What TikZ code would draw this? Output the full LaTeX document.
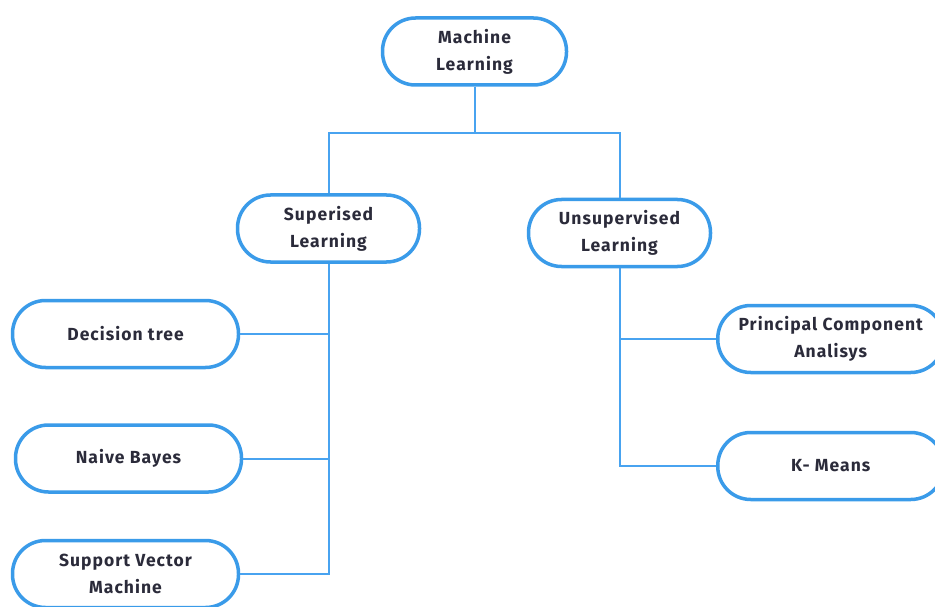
\documentclass[tikz,border=0pt]{standalone}
\usepackage{fontspec}
\setmainfont{Fira Sans}[LetterSpace=6]
\definecolor{boxblue}{RGB}{58,155,233}
\definecolor{lineblue}{RGB}{72,163,240}
\definecolor{txt}{RGB}{43,43,58}
\begin{document}
\begin{tikzpicture}[x=1pt,y=-1pt,
  pill/.style={draw=boxblue, line width=3.5pt, fill=white, rounded corners=33pt,
    minimum height=67pt, align=center, text=txt, inner sep=0pt,
    font=\fontsize{17.5}{27}\selectfont\bfseries},
  conn/.style={draw=lineblue, line width=2pt}]
\useasboundingbox (0,0) rectangle (935,607);
\clip (0,0) rectangle (935,607);
\coordinate (j) at (474.5,133);
\node[pill, minimum width=184pt] (ml) at (474.5,51.5) {Machine\\Learning};
\node[pill, minimum width=182pt] (sup) at (328.5,228.5) {Superised\\Learning};
\node[pill, minimum width=182pt] (uns) at (619.5,233) {Unsupervised\\Learning};
\node[pill, minimum width=226pt] (dt) at (125.5,334) {Decision tree};
\node[pill, minimum width=226pt] (nb) at (128.5,458.5) {Naive Bayes};
\node[pill, minimum width=226pt] (svm) at (125.5,574) {Support Vector\\Machine};
\node[pill, minimum width=226pt] (pca) at (830.75,339) {Principal Component\\Analisys};
\node[pill, minimum width=226pt] (km) at (830.75,466) {K- Means};
\draw[conn] (ml) -- (j);
\draw[conn] (sup.north) |- (j);
\draw[conn] (uns.north) |- (j);
\draw[conn] (svm.east) -| (sup.south);
\draw[conn] (dt.east) -- (dt.east -| sup.south);
\draw[conn] (nb.east) -- (nb.east -| sup.south);
\draw[conn] (km.west) -| (uns.south);
\draw[conn] (pca.west) -- (pca.west -| uns.south);
\end{tikzpicture}
\end{document}
